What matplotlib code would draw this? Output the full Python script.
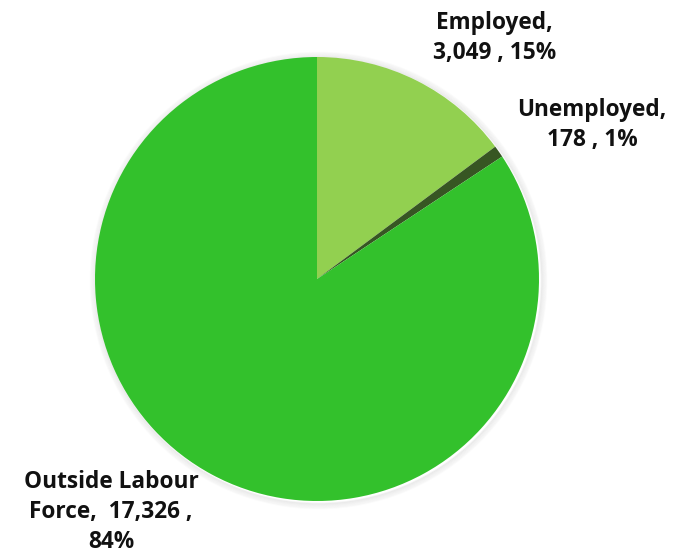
import matplotlib.pyplot as plt
from matplotlib.patches import Circle

labels = ["Employed", "Unemployed", "Outside Labour Force"]
values = [3049, 178, 17326]
colours = ["#92D050", "#375623", "#33C12C"]

# label text, wrapped the way the chart shows it
label_text = ["Employed,\n3,049 , 15%",
              "Unemployed,\n178 , 1%",
              "Outside Labour\nForce,  17,326 ,\n84%"]
# label centre offsets, in units of the pie radius
label_offset = [(0.80, 1.086), (1.239, 0.694), (-0.928, -1.05)]

W, H = 684, 560
cx, cy, r = 317, H - 279, 222

fig = plt.figure(figsize=(W / 100, H / 100), dpi=100)
ax = fig.add_axes([0, 0, 1, 1])

# soft shadow around the outer edge
for k in range(6):
    ax.add_patch(Circle((cx + 1.5, cy - 1.5), r + 1 + k, facecolor="none",
                        edgecolor="black", alpha=0.05 - k * 0.007, lw=1.2, zorder=1))

ax.pie(values, colors=colours, startangle=90, counterclock=False,
       radius=r, center=(cx, cy), frame=True,
       wedgeprops=dict(linewidth=0, zorder=2))
ax.set_xlim(0, W)
ax.set_ylim(0, H)
ax.set_aspect("equal")
ax.axis("off")

for txt, (dx, dy) in zip(label_text, label_offset):
    ax.text(cx + dx * r, cy + dy * r, txt, ha="center", va="center",
            fontsize=16.3, fontweight="bold", family="Open Sans",
            linespacing=1.33, color="#111111")

fig.savefig("out.png", dpi=100)
